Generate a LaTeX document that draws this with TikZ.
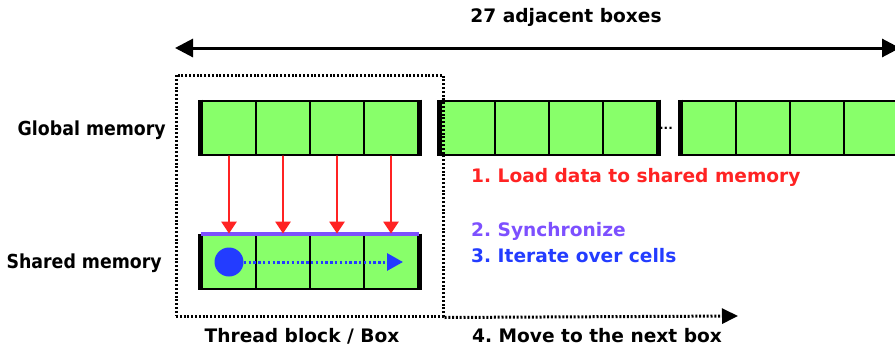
\documentclass[tikz,border=0pt]{standalone}
\usepackage{fontspec}
\setmainfont{DejaVu Sans}
\newfontfamily\sidefont{DejaVu Sans}[FakeStretch=0.9]
\usetikzlibrary{arrows.meta}
\definecolor{cellgreen}{RGB}{136,255,106}
\definecolor{loadred}{RGB}{255,35,35}
\definecolor{syncviolet}{RGB}{125,80,255}
\definecolor{iterblue}{RGB}{35,60,255}
\tikzset{
	cell/.style={draw, line width=2.8pt, fill=cellgreen, minimum width=54pt, minimum height=54pt, inner sep=0pt},
	edge/.style={line width=5pt, line cap=butt},
	lbl/.style={font=\bfseries\fontsize{18.6}{20}\selectfont, inner sep=0pt},
	side/.style={font=\sidefont\bfseries\fontsize{19.3}{20}\selectfont, inner sep=0pt, anchor=base east},
	dots/.style={line width=3pt, line cap=butt, dash pattern=on 2pt off 1.8pt},
	load/.style={draw=loadred, line width=2.5pt, -{Triangle[width=15pt,length=12pt]}},
}
\frenchspacing
\begin{document}
\begin{tikzpicture}[x=1pt, y=-1pt, line join=round, line cap=round]
	\useasboundingbox (0,0) rectangle (895,351);
	\clip (0,0) rectangle (895,351);
	\def\cw{54} % cell width
	\def\gy{128} % global memory row
	\def\sy{262} % shared memory row
	% global memory, three boxes of four cells
	\foreach \b/\x in {1/202, 2/441, 3/682}{
		\foreach \i in {1,...,4}
			\node[cell] (g\b\i) at ({\x+\cw*(\i-0.5)},\gy) {};
		\draw[edge] (g\b1.north west) -- (g\b1.south west)
			(g\b4.north east) -- (g\b4.south east);
	}
	\node[font=\bfseries\fontsize{12}{12}\selectfont, inner sep=0pt, anchor=base] (gap) at (666,129) {...};
	% shared memory
	\foreach \i in {1,...,4}
		\node[cell] (s\i) at ({202+\cw*(\i-0.5)},\sy) {};
	\draw[edge] (s1.north west) -- (s1.south west)
		(s4.north east) -- (s4.south east);
	\draw[syncviolet, line width=4pt, line cap=butt] (s1.north west) -- (s4.north east);
	\foreach \i in {1,...,4}
		\draw[load] (g1\i.south) -- (s\i.north);
	\node[circle, fill=iterblue, minimum size=29pt, inner sep=0pt] (dot) at (s1) {};
	\coordinate (iterEnd) at (403,\sy);
	\draw[iterblue, dots, line width=3pt, dash pattern=on 2.4pt off 2.4pt, -{Triangle[width=17pt,length=16pt]}] (dot) -- (iterEnd);
	% thread block
	\node[draw, dots, minimum width=267pt, minimum height=241pt, inner sep=0pt] (block) at (309.5,195.5) {};
	\coordinate (nextBox) at (738,316);
	\draw[dots, -{Triangle[width=15pt,length=16pt]}] (block.south east) -- (nextBox);
	% span of all boxes
	\coordinate (spanL) at (175,48);
	\coordinate (spanR) at (900,48);
	\draw[line width=3pt, {Triangle[width=18pt,length=18pt]}-{Triangle[width=18pt,length=18pt]}] (spanL) -- (spanR);
	\path
	(566,22) node[lbl, anchor=base] (span) {27 adjacent boxes}
	(166,135) node[side] (glob) {Global memory}
	(162,268) node[side] (shr) {Shared memory}
	(302,342) node[lbl, anchor=base] (blk) {Thread block / Box}
	(472,342) node[lbl, anchor=base west] (move) {4. Move to the next box}
	(471,182) node[lbl, anchor=base west, text=loadred] (step1) {1. Load data to shared memory}
	(471,236) node[lbl, anchor=base west, text=syncviolet] (step2) {2. Synchronize}
	(471,262) node[lbl, anchor=base west, text=iterblue] (step3) {3. Iterate over cells};
\end{tikzpicture}
\end{document}
